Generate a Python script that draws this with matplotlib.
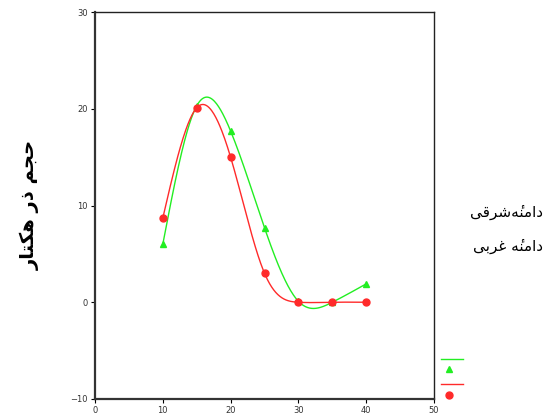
import numpy as np
import matplotlib
matplotlib.use("Agg")
import matplotlib.pyplot as plt
from matplotlib.lines import Line2D

# ---------------- data ----------------
x_vals = [10, 15, 20, 25, 30, 35, 40]
east_vals = [6.0, 20.3, 17.7, 7.7, 0.1, 0.0, 1.9]    # دامنۀشرقی (green)
west_vals = [8.7, 20.1, 15.0, 3.0, 0.0, 0.0, 0.0]    # دامنۀ غربی (red)
x_ticks = [0, 10, 20, 30, 40, 50]
y_ticks = [-10, 0, 10, 20, 30]
y_label = "حجم ذر هکتار"
legend_labels = ["دامنۀشرقی", "دامنۀ غربی"]

# ---------------- minimal Arabic/Persian shaping ----------------
FORMS = {
    'ا': ('\uFE8D', '\uFE8E', None, None),
    'ب': ('\uFE8F', '\uFE90', '\uFE91', '\uFE92'),
    'ت': ('\uFE95', '\uFE96', '\uFE97', '\uFE98'),
    'ج': ('\uFE9D', '\uFE9E', '\uFE9F', '\uFEA0'),
    'ح': ('\uFEA1', '\uFEA2', '\uFEA3', '\uFEA4'),
    'د': ('\uFEA9', '\uFEAA', None, None),
    'ذ': ('\uFEAB', '\uFEAC', None, None),
    'ر': ('\uFEAD', '\uFEAE', None, None),
    'ش': ('\uFEB5', '\uFEB6', '\uFEB7', '\uFEB8'),
    'غ': ('\uFECD', '\uFECE', '\uFECF', '\uFED0'),
    'ق': ('\uFED5', '\uFED6', '\uFED7', '\uFED8'),
    'م': ('\uFEE1', '\uFEE2', '\uFEE3', '\uFEE4'),
    'ن': ('\uFEE5', '\uFEE6', '\uFEE7', '\uFEE8'),
    'ه': ('\uFEE9', '\uFEEA', '\uFEEB', '\uFEEC'),
    'ک': ('\uFB8E', '\uFB8F', '\uFB90', '\uFB91'),
    'ی': ('\uFBFC', '\uFBFD', '\uFBFE', '\uFBFF'),
    # heh with hamza above: heh form followed (visually) by combining hamza
    'ۀ': ('\u0654\uFEE9', '\u0654\uFEEA', None, None),
}


def shape(text):
    out = []
    n = len(text)
    for i, ch in enumerate(text):
        if ch not in FORMS:
            out.append(ch)
            continue
        iso, fin, ini, med = FORMS[ch]
        prev = text[i - 1] if i > 0 else None
        nxt = text[i + 1] if i < n - 1 else None
        jp = prev in FORMS and FORMS[prev][2] is not None
        jn = ini is not None and nxt in FORMS
        if jp and jn:
            out.append(med)
        elif jp:
            out.append(fin)
        elif jn:
            out.append(ini)
        else:
            out.append(iso)
    return ''.join(out)[::-1]


# ---------------- natural cubic spline for smooth curves ----------------
def natural_spline(x, y, xs):
    x = np.asarray(x, float)
    y = np.asarray(y, float)
    n = len(x)
    h = np.diff(x)
    A = np.zeros((n, n))
    b = np.zeros(n)
    A[0, 0] = 1
    A[-1, -1] = 1
    for i in range(1, n - 1):
        A[i, i - 1] = h[i - 1]
        A[i, i] = 2 * (h[i - 1] + h[i])
        A[i, i + 1] = h[i]
        b[i] = 3 * ((y[i + 1] - y[i]) / h[i] - (y[i] - y[i - 1]) / h[i - 1])
    c = np.linalg.solve(A, b)
    ys = np.empty_like(xs)
    for k, xv in enumerate(xs):
        i = min(max(np.searchsorted(x, xv) - 1, 0), n - 2)
        dx = xv - x[i]
        bi = (y[i + 1] - y[i]) / h[i] - h[i] * (2 * c[i] + c[i + 1]) / 3
        di = (c[i + 1] - c[i]) / (3 * h[i])
        ys[k] = y[i] + bi * dx + c[i] * dx ** 2 + di * dx ** 3
    return ys


GREEN = '#22ee22'
RED = '#ff2a2a'
W, H = 550, 417

fig = plt.figure(figsize=(5.5, 4.17), dpi=100)
ax = fig.add_axes([95 / W, 1 - 399 / H, (434 - 95) / W, (399 - 12) / H])

xs = np.linspace(min(x_vals), max(x_vals), 300)
ax.plot(xs, natural_spline(x_vals, east_vals, xs), color=GREEN, lw=1.0, zorder=2)
ax.plot(xs, natural_spline(x_vals, west_vals, xs), color=RED, lw=1.0, zorder=3)
ax.plot(x_vals, east_vals, linestyle='none', marker='^', color=GREEN, ms=4.5, zorder=4)
ax.plot(x_vals, west_vals, linestyle='none', marker='o', color=RED, ms=5, zorder=5)

ax.set_xlim(0, 50)
ax.set_ylim(-10, 30)
ax.set_xticks(x_ticks)
ax.set_yticks(y_ticks)
ax.tick_params(axis='both', direction='out', length=3, width=0.8, labelsize=6,
               labelcolor='#333333', pad=2)
for side in ['left', 'bottom']:
    ax.spines[side].set_linewidth(1.6)
    ax.spines[side].set_color('#333333')
for side in ['right', 'top']:
    ax.spines[side].set_linewidth(1.0)
    ax.spines[side].set_color('#222222')

fig.text(30 / W, 1 - 205 / H, shape(y_label), rotation=90, ha='center', va='center',
         fontsize=14, fontweight='bold', family='DejaVu Sans')

fig.text(543 / W, 1 - 212 / H, shape(legend_labels[0]), ha='right', va='center',
         fontsize=11, family='DejaVu Sans')
fig.text(543 / W, 1 - 246 / H, shape(legend_labels[1]), ha='right', va='center',
         fontsize=11, family='DejaVu Sans')

fig.add_artist(Line2D([441 / W, 463 / W], [1 - 359 / H, 1 - 359 / H], color=GREEN, lw=1.0,
                      transform=fig.transFigure))
fig.add_artist(Line2D([449 / W], [1 - 369 / H], color=GREEN, marker='^', ms=4.5,
                      linestyle='none', transform=fig.transFigure))
fig.add_artist(Line2D([441 / W, 463 / W], [1 - 384 / H, 1 - 384 / H], color=RED, lw=1.0,
                      transform=fig.transFigure))
fig.add_artist(Line2D([449 / W], [1 - 395 / H], color=RED, marker='o', ms=5,
                      linestyle='none', transform=fig.transFigure))

fig.savefig('out.png', dpi=100)
